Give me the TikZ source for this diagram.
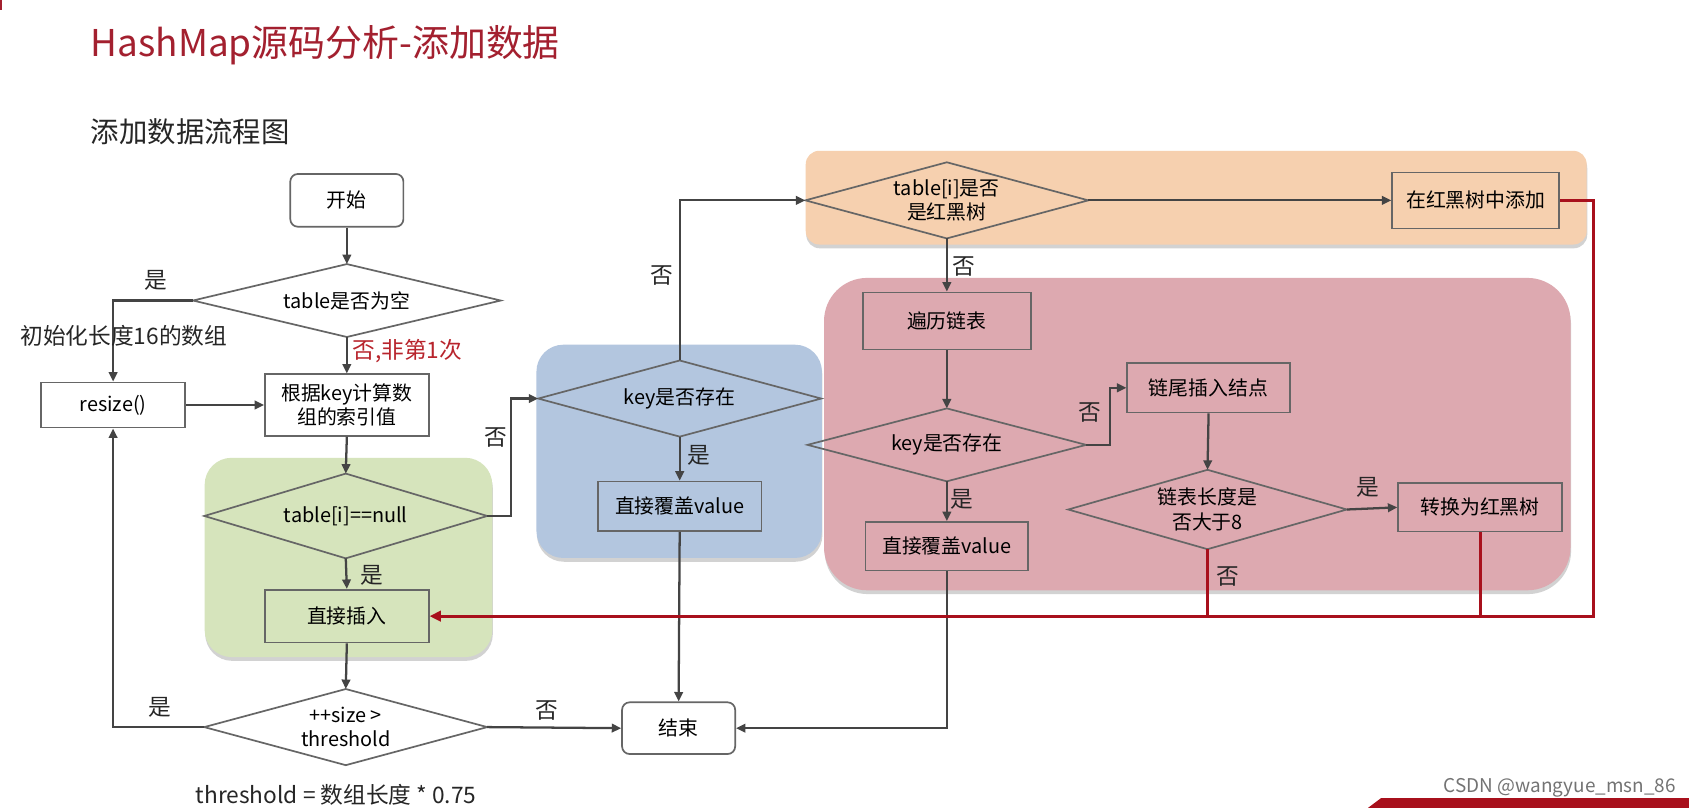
\documentclass[tikz,border=0pt]{standalone}
\usepackage{fontspec}
\setmainfont{Noto Sans CJK SC}
\usetikzlibrary{arrows.meta,shadows}
\definecolor{titlered}{HTML}{A3202F}
\definecolor{lblred}{HTML}{B8242C}
\definecolor{redline}{HTML}{A8101C}
\definecolor{linegray}{HTML}{444444}
\definecolor{boxgray}{HTML}{666666}
\definecolor{greenreg}{HTML}{D6E4BC}
\definecolor{bluereg}{HTML}{B3C6DF}
\definecolor{orangereg}{HTML}{F6D0AF}
\definecolor{pinkreg}{HTML}{DDA9B0}
\tikzset{
  nodefont/.style={font=\fontsize{10.5}{13}\selectfont},
  box/.style={draw=boxgray, line width=0.9pt, align=center, inner sep=1pt, nodefont},
  rbox/.style={box, rounded corners=0.14cm, fill=white},
  dia/.style={draw=none, align=center, inner sep=0pt, nodefont},
  diaoutline/.style={draw=boxgray, line width=0.9pt},
  arr/.style={draw=linegray, line width=1.2pt, -{Triangle[length=5pt,width=4.5pt]}},
  redl/.style={draw=redline, line width=1.6pt},
  redarr/.style={redl, -{Triangle[length=6pt,width=5.5pt]}},
  lbl/.style={font=\fontsize{12}{14}\selectfont, text=black!85},
  region/.style={drop shadow={shadow xshift=0.3pt, shadow yshift=-2pt, opacity=0.35}}
}
\begin{document}
\begin{tikzpicture}[x=0.02cm,y=-0.02cm]
\useasboundingbox (0,0) rectangle (1568,750);
\fill[white] (0,0) rectangle (1568,750);
\fill[titlered] (0,0) rectangle (2,9);

% titles
\node[anchor=west, text=titlered, font=\fontsize{19.5}{22}\selectfont, inner sep=0] (title) at (84,42) {HashMap源码分析-添加数据};
\node[anchor=west, text=black!85, font=\fontsize{15}{18}\selectfont, inner sep=0] (subtitle) at (84,122) {添加数据流程图};

% regions
\fill[greenreg, rounded corners=0.5cm, region] (190,425) rectangle (457,610);
\fill[bluereg, rounded corners=0.5cm, region] (498,320) rectangle (763,518);
\fill[orangereg, rounded corners=0.25cm, region] (748,140) rectangle (1473,227);
\fill[pinkreg, rounded corners=0.8cm, region] (765,258) rectangle (1458,548);

% nodes
\node[rbox, minimum width=2.1cm, minimum height=0.98cm] (start) at (322,186) {开始};
\node[dia, minimum width=5.7cm, minimum height=1.34cm] (d1) at (322,279) {table是否为空};
\node[box, minimum width=2.68cm, minimum height=0.84cm] (resize) at (105,376) {resize()};
\node[box, minimum width=3.04cm, minimum height=1.14cm] (idx) at (322,376) {根据key计算数\\组的索引值};
\node[dia, minimum width=5.24cm, minimum height=1.56cm] (d2) at (321,479) {table[i]==null};
\node[box, minimum width=3.04cm, minimum height=0.98cm] (ins) at (322,572) {直接插入};
\node[dia, minimum width=5.24cm, minimum height=1.4cm] (d3) at (321,675) {++size >\\threshold};
\node[rbox, minimum width=2.1cm, minimum height=0.96cm] (end) at (630,676) {结束};
\node[dia, minimum width=5.24cm, minimum height=1.4cm] (d4) at (631,370) {key是否存在};
\node[box, minimum width=3.04cm, minimum height=0.92cm] (cov1) at (631,470) {直接覆盖value};
\node[dia, minimum width=5.24cm, minimum height=1.4cm] (d5) at (879,186) {table[i]是否\\是红黑树};
\node[box, minimum width=3.1cm, minimum height=1.04cm] (rbt) at (1370,186) {在红黑树中添加};
\node[box, minimum width=3.12cm, minimum height=1.06cm] (trav) at (879,298) {遍历链表};
\node[dia, minimum width=5.16cm, minimum height=1.34cm] (d6) at (879,413) {key是否存在};
\node[box, minimum width=3.02cm, minimum height=0.92cm] (tail) at (1122,360) {链尾插入结点};
\node[dia, minimum width=5.16cm, minimum height=1.46cm] (d7) at (1121,473) {链表长度是\\否大于8};
\node[box, minimum width=3.04cm, minimum height=0.9cm] (conv) at (1374,471) {转换为红黑树};
\node[box, minimum width=3.02cm, minimum height=0.9cm] (cov2) at (879,507) {直接覆盖value};

% diamond outlines
\foreach \d in {d1,d2,d3,d4,d5,d6,d7}
  \draw[diaoutline] (\d.west) -- (\d.north) -- (\d.east) -- (\d.south) -- cycle;

% connectors
\draw[arr] (start.south) -- (d1.north);
\draw[arr] (d1.west) -| (resize.north);
\draw[arr] (d1.south) -- (idx.north);
\draw[arr] (resize.east) -- (idx.west);
\draw[arr] (idx.south) -- (d2.north);
\draw[arr] (d2.south) -- (ins.north);
\draw[arr] (ins.south) -- (d3.north);
\draw[arr] (d3.west) -| (resize.south);
\draw[arr] (d3.east) -- (end.west);
\draw[arr] (d2.east) -- ++(22,0) |- (d4.west);
\draw[arr] (d4.south) -- (cov1.north);
\draw[arr] (cov1.south) -- (end.north);
\draw[arr] (d4.north) |- (d5.west);
\draw[arr] (d5.east) -- (rbt.west);
\draw[arr] (d5.south) -- (trav.north);
\draw[arr] (trav.south) -- (d6.north);
\draw[arr] (d6.east) -- ++(22,0) |- (tail.west);
\draw[arr] (tail.south) -- (d7.north);
\draw[arr] (d7.east) -- (conv.west);
\draw[arr] (d6.south) -- (cov2.north);
\draw[arr] (cov2.south) |- (end.east);

% red return path
\draw[redarr] (rbt.east) -- ++(31,0) |- (ins.east);
\draw[redl] (d7.south) -- (d7.south |- ins.east);
\draw[redl] (conv.south) -- (conv.south |- ins.east);

% labels
\node[lbl] (l1) at (145,260) {是};
\node[lbl] (l2) at (115,312) {初始化长度16的数组};
\node[lbl, text=lblred] (l3) at (378,326) {否,非第1次};
\node[lbl] (l4) at (345,534) {是};
\node[lbl] (l5) at (148,657) {是};
\node[lbl] (l6) at (508,660) {否};
\node[lbl] (l7) at (460,406) {否};
\node[lbl] (l8) at (649,423) {是};
\node[lbl] (l9) at (614,256) {否};
\node[lbl] (l10) at (895,247) {否};
\node[lbl] (l11) at (1012,383) {否};
\node[lbl] (l12) at (1270,452) {是};
\node[lbl] (l13) at (1140,535) {否};
\node[lbl] (l14) at (893,464) {是};
\node[lbl] (thr) at (312,738) {threshold = 数组长度 * 0.75};

% footer
\node[anchor=east, text=black!55, font=\fontsize{10}{12}\selectfont, inner sep=0] (wm) at (1556,731) {CSDN @wangyue\_msn\_86};
\fill[redline] (1270,750) -- (1282,741) -- (1568,741) -- (1568,750) -- cycle;
\end{tikzpicture}
\end{document}
